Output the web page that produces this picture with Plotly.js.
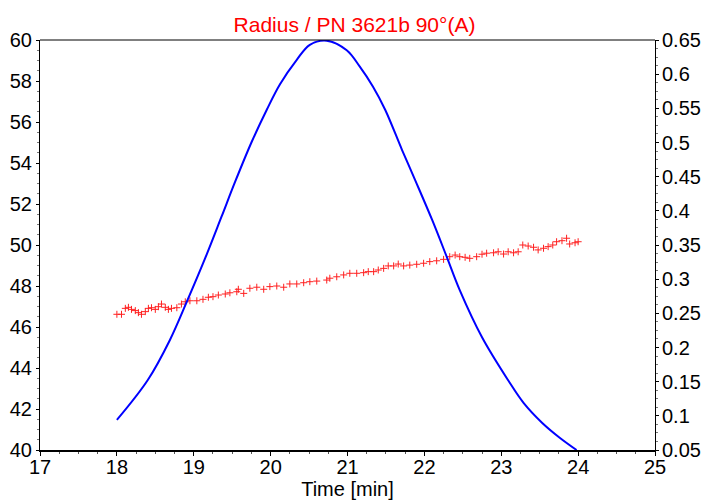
<!DOCTYPE html>
<html>
<head>
<meta charset="utf-8">
<script src="https://cdn.plot.ly/plotly-3.0.1.min.js"></script>
<style>html,body{margin:0;padding:0;background:#fff;}#chart{width:702px;height:500px;}</style>
</head>
<body>
<div id="chart"></div>
<script>
// Blue curve (right axis)
const blueTime = [18.00, 18.40, 18.69, 18.91, 19.15, 19.36, 19.54, 19.75, 19.95, 20.12, 20.34, 20.51, 20.73, 20.99, 21.16, 21.33, 21.49, 21.71, 21.88, 22.10, 22.29, 22.46, 22.75, 23.09, 23.29, 23.53, 23.76, 23.98];
const blueValue = [0.094, 0.152, 0.211, 0.267, 0.331, 0.391, 0.443, 0.500, 0.548, 0.585, 0.621, 0.643, 0.649, 0.635, 0.611, 0.582, 0.548, 0.489, 0.445, 0.387, 0.333, 0.284, 0.215, 0.152, 0.119, 0.090, 0.068, 0.050];

// Red radius points (left axis)
const redTime = [18.00, 18.06, 18.11, 18.15, 18.19, 18.24, 18.28, 18.32, 18.37, 18.41, 18.45, 18.50, 18.54, 18.58, 18.63, 18.67, 18.71, 18.78, 18.84, 18.89, 18.95, 19.04, 19.12, 19.19, 19.25, 19.32, 19.41, 19.47, 19.56, 19.58, 19.65, 19.73, 19.82, 19.91, 19.99, 20.08, 20.17, 20.25, 20.34, 20.43, 20.51, 20.60, 20.73, 20.77, 20.86, 20.95, 21.03, 21.12, 21.21, 21.27, 21.34, 21.40, 21.47, 21.53, 21.60, 21.66, 21.73, 21.81, 21.90, 21.99, 22.07, 22.16, 22.25, 22.33, 22.40, 22.46, 22.53, 22.59, 22.68, 22.75, 22.81, 22.90, 22.96, 23.03, 23.09, 23.16, 23.22, 23.28, 23.35, 23.42, 23.48, 23.55, 23.61, 23.67, 23.72, 23.79, 23.85, 23.89, 23.96, 24.00];
const redRadius = [46.62, 46.62, 46.91, 46.96, 46.86, 46.80, 46.70, 46.62, 46.75, 46.91, 46.94, 46.86, 46.99, 47.12, 46.96, 46.86, 46.91, 46.94, 47.12, 47.23, 47.28, 47.28, 47.35, 47.45, 47.48, 47.56, 47.61, 47.67, 47.72, 47.84, 47.64, 47.89, 47.94, 47.84, 47.97, 48.00, 47.94, 48.10, 48.10, 48.16, 48.21, 48.24, 48.29, 48.38, 48.45, 48.54, 48.62, 48.62, 48.65, 48.70, 48.70, 48.78, 48.86, 48.98, 48.98, 49.07, 48.98, 49.02, 49.06, 49.11, 49.19, 49.23, 49.30, 49.43, 49.51, 49.43, 49.40, 49.35, 49.43, 49.55, 49.60, 49.62, 49.67, 49.56, 49.67, 49.62, 49.67, 50.00, 49.95, 49.89, 49.76, 49.84, 49.92, 50.00, 50.16, 50.21, 50.33, 50.05, 50.11, 50.16];

const titleText = 'Radius / PN 3621b 90°(A)';
const xTitle = 'Time [min]';

const FONT = 'Liberation Sans, Arial, sans-serif';

const traces = [
  {
    x: blueTime, y: blueValue, yaxis: 'y2', type: 'scatter', mode: 'lines',
    line: {color: '#0000ff', width: 2, shape: 'spline', smoothing: 1},
    hoverinfo: 'skip', showlegend: false
  },
  {
    x: redTime, y: redRadius, yaxis: 'y', type: 'scatter', mode: 'markers',
    marker: {symbol: 'cross-thin', size: 5, color: '#ff0000', line: {color: '#ff2020', width: 1}},
    hoverinfo: 'skip', showlegend: false
  }
];

const layout = {
  width: 702, height: 500,
  paper_bgcolor: '#ffffff', plot_bgcolor: '#ffffff',
  margin: {l: 40, r: 47, t: 40, b: 50, pad: 0},
  font: {family: FONT, size: 20, color: '#000000'},
  title: {text: titleText, font: {family: FONT, size: 21, color: '#ff0000'}, x: 0.505, xanchor: 'center', y: 0.95, yanchor: 'middle'},
  showlegend: false,
  xaxis: {
    range: [17, 25], tick0: 17, dtick: 1, showgrid: false, zeroline: false,
    showline: true, linecolor: '#000', linewidth: 2,
    ticks: 'outside', ticklen: 4, tickcolor: '#000', tickwidth: 1,
    ticklabelstandoff: -6,
    minor: {dtick: 0.25, ticks: 'outside', ticklen: 2, tickcolor: '#555', showgrid: false},
    tickfont: {family: FONT, size: 20, color: '#000'},
    title: {text: xTitle, font: {family: FONT, size: 20, color: '#000'}, standoff: 3}
  },
  yaxis: {
    range: [40, 60], tick0: 40, dtick: 2, showgrid: false, zeroline: false,
    showline: true, linecolor: '#000', linewidth: 1,
    ticks: 'outside', ticklen: 3, tickcolor: '#000', tickwidth: 1,
    minor: {dtick: 0.5, ticks: 'outside', ticklen: 2, tickcolor: '#777', showgrid: false},
    tickfont: {family: FONT, size: 20, color: '#000'}
  },
  yaxis2: {
    range: [0.05, 0.65], tick0: 0.05, dtick: 0.05, overlaying: 'y', side: 'right',
    showgrid: false, zeroline: false,
    showline: true, linecolor: '#000', linewidth: 1,
    ticks: 'outside', ticklen: 3, tickcolor: '#000', tickwidth: 1,
    ticklabelstandoff: -1,
    minor: {dtick: 0.0125, ticks: 'outside', ticklen: 2, tickcolor: '#777', showgrid: false},
    tickfont: {family: FONT, size: 20, color: '#000'}
  },
  shapes: [
    {type: 'line', xref: 'paper', yref: 'paper', x0: 0, x1: 1, y0: 1, y1: 1, line: {color: '#000', width: 1}}
  ]
};

Plotly.newPlot('chart', traces, layout, {staticPlot: true, displayModeBar: false});
</script>
</body>
</html>
